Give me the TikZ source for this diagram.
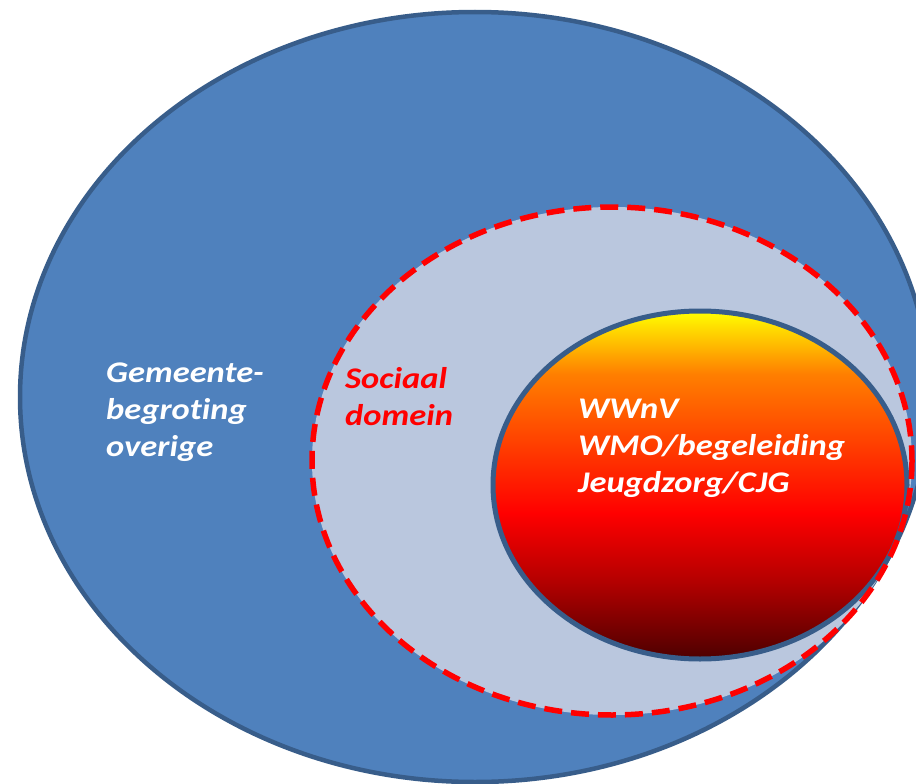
\documentclass[tikz,border=0pt]{standalone}
\usepackage{fontspec}
\setmainfont{Carlito}[FakeStretch=1.15, Ligatures=NoCommon]
\usepackage{tikz}
\usetikzlibrary{positioning}

\definecolor{buitenblauw}{RGB}{79,129,189}
\definecolor{randblauw}{RGB}{56,93,138}
\definecolor{grijsblauw}{RGB}{186,199,222}
\pgfdeclareverticalshading{kernshade}{100bp}{
  color(0bp)=(red!30!black);
  color(25bp)=(red!30!black);
  color(36bp)=(red!70!black);
  color(46bp)=(red);
  color(58bp)=(orange!60!red);
  color(66bp)=(orange);
  color(75bp)=(yellow);
  color(100bp)=(yellow)}

\tikzset{
  label/.style={font=\fontsize{30}{37}\selectfont\bfseries\itshape,
    align=left, anchor=west, inner sep=0pt}
}

\begin{document}
\begin{tikzpicture}[x=1pt,y=-1pt]
\useasboundingbox (0,0) rectangle (916,784);
\clip (0,0) rectangle (916,784);
% gemeente
\draw[randblauw, line width=4.5pt, fill=buitenblauw] (475,397) ellipse [x radius=455, y radius=385];
% sociaal domein
\fill[grijsblauw] (612,461) ellipse [x radius=300, y radius=254];
% kern
\draw[randblauw, line width=5pt, shading=kernshade] (700,485) ellipse [x radius=207, y radius=174];
\draw[red, line width=5.5pt, dash pattern=on 18pt off 9pt] (612,461) ellipse [x radius=300, y radius=254];
\node[label, white] (gemeente) at (106,412) {Gemeente-\\begroting\\overige};
\node[label, red] (sociaal) at (345,397) {Sociaal\\domein};
\node[label, white] (kern) at (578,448) {WWnV\\WMO/begeleiding\\Jeugdzorg/CJG};
\end{tikzpicture}
\end{document}
